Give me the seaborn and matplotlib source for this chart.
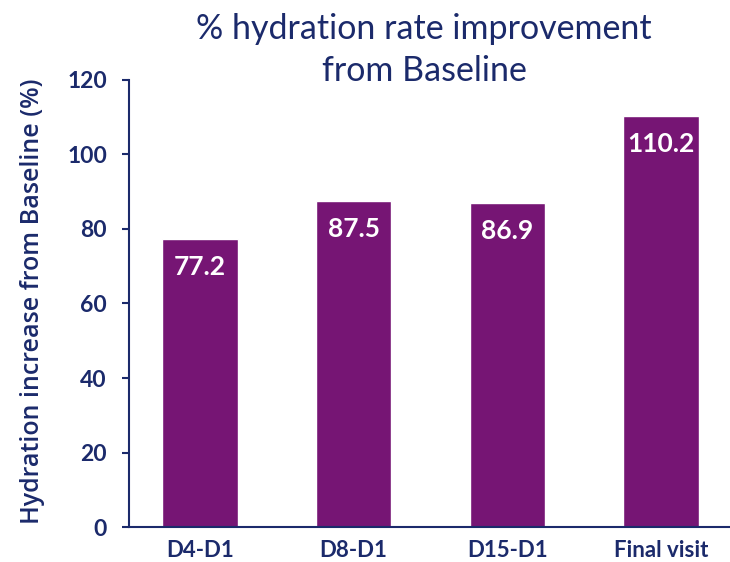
import matplotlib
matplotlib.use("Agg")
import matplotlib.pyplot as plt
import seaborn as sns
import pandas as pd

categories = ["D4-D1", "D8-D1", "D15-D1", "Final visit"]
improvement = [77.2, 87.5, 86.9, 110.2]
y_ticks = [0, 20, 40, 60, 80, 100, 120]

bar_color = "#761574"
navy = "#1b2a6b"

sns.set_theme(style="white")
plt.rcParams["font.family"] = ["Lato", "DejaVu Sans"]

df = pd.DataFrame({"visit": categories, "value": improvement})

fig = plt.figure(figsize=(7.3, 5.62), dpi=100)
ax = fig.add_axes([0.177, 0.062, 0.823, 0.796])

sns.barplot(data=df, x="visit", y="value", color=bar_color, saturation=1,
            width=0.49, ax=ax)

for patch, val in zip(ax.patches, improvement):
    ax.annotate(f"{val:.1f}", (patch.get_x() + patch.get_width() / 2, val),
                xytext=(0, -20), textcoords="offset points",
                ha="center", va="center", color="white",
                fontsize=19, fontweight="bold")

ax.set_ylim(0, 120)
ax.set_xlim(-0.46, 3.45)
ax.set_yticks(y_ticks)
ax.set_xlabel("")
ax.set_ylabel("Hydration increase from Baseline (%)", color=navy, fontsize=18,
              family=["Open Sans", "DejaVu Sans"], fontweight="semibold")
ax.yaxis.set_label_coords(-0.14, 0.505)

for side in ["top", "right"]:
    ax.spines[side].set_visible(False)
for side in ["left", "bottom"]:
    ax.spines[side].set_color(navy)
    ax.spines[side].set_linewidth(1.5)

ax.tick_params(axis="y", left=True, length=5, width=1.5, color=navy,
               labelcolor=navy, labelsize=16.5, pad=11)
ax.tick_params(axis="x", bottom=False, labelcolor=navy, labelsize=16, pad=3)
for lbl in ax.get_xticklabels() + ax.get_yticklabels():
    lbl.set_fontweight("bold")

fig.text(0.581, 0.949, "% hydration rate improvement", ha="center", va="center",
         fontsize=24.5, color=navy)
fig.text(0.581, 0.873, "from Baseline", ha="center", va="center",
         fontsize=24.5, color=navy)

fig.savefig("out.png", dpi=100)
